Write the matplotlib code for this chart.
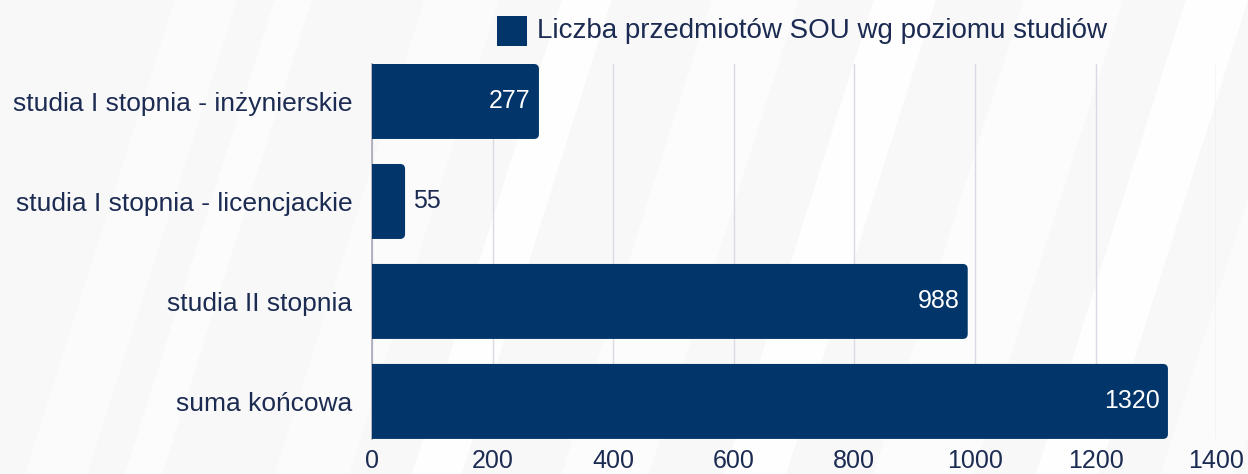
import matplotlib.pyplot as plt
from matplotlib.patches import FancyBboxPatch, Polygon
import numpy as np

# data
categories = ["studia I stopnia - inżynierskie", "studia I stopnia - licencjackie",
              "studia II stopnia", "suma końcowa"]
values = [277, 55, 988, 1320]
series_name = "Liczba przedmiotów SOU wg poziomu studiów"
xticks = [0, 200, 400, 600, 800, 1000, 1200, 1400]

navy = "#02366a"
text_col = "#1c2b52"
font = ["Liberation Sans", "DejaVu Sans"]

fig = plt.figure(figsize=(12.48, 4.74), dpi=100)
fig.patch.set_facecolor("#f8f8f9")

# subtle diagonal streaks in the background
bg = fig.add_axes([0, 0, 1, 1], zorder=-10)
bg.set_xlim(0, 1)
bg.set_ylim(0, 1)
bg.axis("off")
streaks = [(0.02, 0.05, 0.985), (0.10, 0.03, 0.99), (0.22, 0.06, 0.985), (0.33, 0.04, 0.995),
           (0.45, 0.07, 0.99), (0.58, 0.05, 0.995), (0.70, 0.08, 0.99), (0.83, 0.05, 0.995),
           (0.93, 0.06, 0.985)]
for x0, w, c in streaks:
    bg.add_patch(Polygon([[x0, 0], [x0 + w, 0], [x0 + w + 0.12, 1], [x0 + 0.12, 1]],
                         closed=True, facecolor=(c, c, c), edgecolor="none"))

ax = fig.add_axes([0.298, 0.074, 0.6765, 0.791])
ax.set_facecolor("none")
y = np.arange(len(categories))
bars = ax.barh(y, values, height=0.75, color=navy)
ax.set_xlim(0, 1400)
ax.set_ylim(len(categories) - 0.625, -0.375)

# rounded bar ends
px_x = 844 / 1400
px_y = 100
r = 5 / px_x
for b in bars:
    b.set_visible(False)
    p = FancyBboxPatch((b.get_x() - 20, b.get_y()), b.get_width() + 20, b.get_height(),
                       boxstyle=f"round,pad=0,rounding_size={r}",
                       mutation_aspect=(px_x / px_y),
                       facecolor=navy, edgecolor="none", zorder=3)
    ax.add_patch(p)

for yi, v in zip(y, values):
    if v > 150:
        ax.text(v - 14, yi, str(v), ha="right", va="center", color="white",
                fontsize=18, family=font, zorder=4)
    else:
        ax.text(v + 13, yi, str(v), ha="left", va="center", color=text_col,
                fontsize=18, family=font, zorder=4)

ax.set_xticks(xticks)
ax.set_xticklabels([str(t) for t in xticks], family=font, fontsize=18, color=text_col)
ax.set_yticks(y)
ax.set_yticklabels(categories, family=font, fontsize=19, color=text_col)
ax.tick_params(axis="both", length=0)
ax.tick_params(axis="x", pad=7)
ax.tick_params(axis="y", pad=14)
ax.grid(axis="x", color="#dadae4", linewidth=1.0, zorder=0)
ax.set_axisbelow(True)
for s in ["top", "right", "bottom"]:
    ax.spines[s].set_visible(False)
ax.spines["left"].set_color("#a8a8b8")
ax.spines["left"].set_linewidth(1.2)

# legend
fig.patches.append(FancyBboxPatch((497 / 1248, 1 - 46 / 474), 30 / 1248, 30 / 474,
                                  boxstyle="square,pad=0", transform=fig.transFigure,
                                  facecolor=navy, edgecolor="none", figure=fig))
fig.text(537 / 1248, 1 - 31 / 474, series_name, ha="left", va="center",
         fontsize=20, family=font, color=text_col)

fig.savefig("out.png", dpi=100, facecolor=fig.get_facecolor())
